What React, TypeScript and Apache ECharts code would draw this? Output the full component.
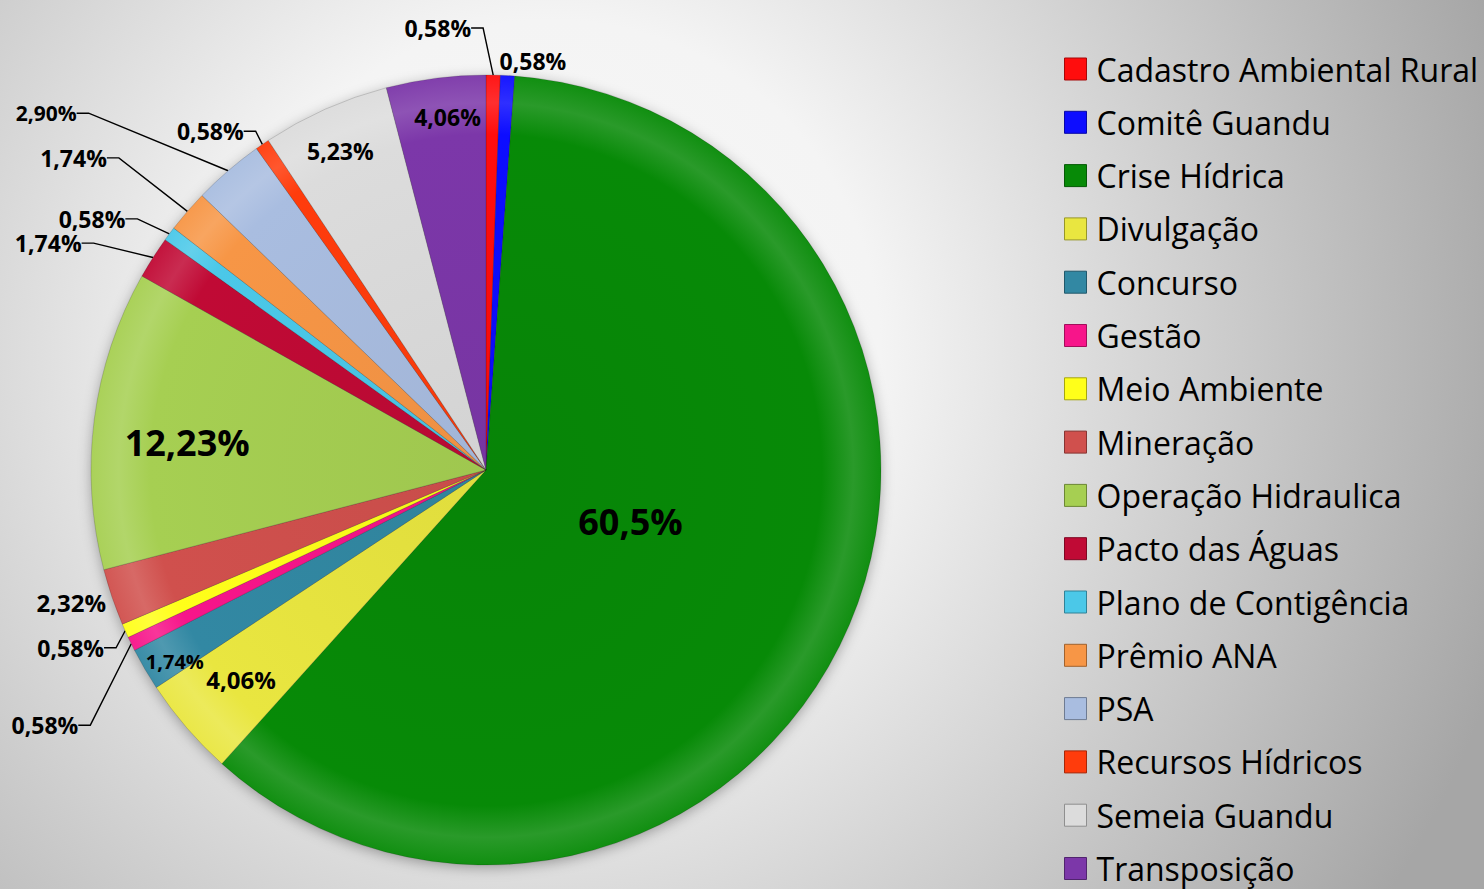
import React, { useEffect, useRef } from 'react';
import * as echarts from 'echarts';

const CATEGORIES = [
  'Cadastro Ambiental Rural', 'Comitê Guandu', 'Crise Hídrica', 'Divulgação', 'Concurso', 'Gestão',
  'Meio Ambiente', 'Mineração', 'Operação Hidraulica', 'Pacto das Águas', 'Plano de Contigência',
  'Prêmio ANA', 'PSA', 'Recursos Hídricos', 'Semeia Guandu', 'Transposição',
];
const VALUES = [0.58, 0.58, 60.5, 4.06, 1.74, 0.58, 0.58, 2.32, 12.23, 1.74, 0.58, 1.74, 2.9, 0.58, 5.23, 4.06];
const VALUE_LABELS = [
  '0,58%', '0,58%', '60,5%', '4,06%', '1,74%', '0,58%', '0,58%', '2,32%', '12,23%', '1,74%', '0,58%',
  '1,74%', '2,90%', '0,58%', '5,23%', '4,06%',
];
const COLORS = [
  '#ff0d0d', '#0d0dff', '#078a07', '#e9e640', '#3288a3', '#f7158a', '#ffff1a', '#d0504d',
  '#a6cf52', '#c00a35', '#4bc8e8', '#f79646', '#a9bde0', '#ff3c0c', '#dcdcdc', '#7c37a9',
];

// label styling (style only, not data)
const LABEL_MODE = ['line', 'free', 'in', 'in', 'in', 'line', 'line', 'free', 'in', 'line', 'line', 'line', 'line', 'line', 'in', 'in'];
const LABEL_SIZE = [23, 23, 36, 24, 20, 23, 23, 24, 36, 23, 23, 23, 21, 23, 23, 23];
const LABEL_SHIFT = [
  [-106, -37], [36, -209], [-40, -27], [-93, 79], [-138, 90], [-27, 77], [5, 13], [-225, 68],
  [-100, -2], [-46, -9], [-19, -9], [-56, -47], [-128, -50], [4, -5], [-64, -136], [-13, -154],
];

const CX = 486;
const CY = 470;
const R = 395;

function mix(hex: string, t: number, target = 255) {
  const n = parseInt(hex.slice(1), 16);
  const r = (n >> 16) & 255, g = (n >> 8) & 255, b = n & 255;
  const f = (c: number) => Math.round(c + (target - c) * t);
  return `rgb(${f(r)},${f(g)},${f(b)})`;
}

export default function App() {
  const ref = useRef<HTMLDivElement>(null);
  useEffect(() => {
    if (!ref.current) return;
    const chart = echarts.init(ref.current, null, { renderer: 'svg' });
    const data = CATEGORIES.map((name, i) => {
      const mode = LABEL_MODE[i];
      const base = COLORS[i];
      return {
        name,
        value: VALUES[i],
        itemStyle: {
          color: {
            type: 'radial', x: CX, y: CY, r: R, global: true,
            colorStops: [
              { offset: 0, color: mix(base, 0.04, 0) },
              { offset: 0.85, color: base },
              { offset: 0.93, color: mix(base, 0.14) },
              { offset: 1, color: mix(base, 0.04) },
            ],
          },
        },
        label: {
          position: mode === 'line' ? 'outside' : 'inside',
          fontSize: LABEL_SIZE[i],
          padding: mode === 'line' ? [0, 0, 8, 0] : 0,
        },
        labelLine: { show: mode === 'line' },
      };
    });
    chart.setOption({
      animation: false,
      graphic: [
        {
          type: 'circle', z: 0, silent: true,
          shape: { cx: CX, cy: CY, r: R - 1 },
          style: { fill: '#9a9a9a', shadowBlur: 14, shadowColor: 'rgba(0,0,0,0.35)', shadowOffsetY: 3 },
        },
      ],
      legend: {
        orient: 'vertical',
        left: 1064,
        top: 53,
        padding: 0,
        itemWidth: 22,
        itemHeight: 22,
        itemGap: 21.3,
        icon: 'rect',
        selectedMode: false,
        textStyle: { fontFamily: 'Open Sans', fontSize: 32, lineHeight: 32, color: '#000', padding: [0, 0, 0, 5] },
        data: CATEGORIES.map((name, i) => ({
          name,
          itemStyle: { color: COLORS[i], borderColor: mix(COLORS[i], 0.35, 0), borderWidth: 1 },
        })),
      },
      series: [
        {
          type: 'pie',
          center: [CX, CY],
          radius: R,
          startAngle: 90,
          clockwise: true,
          avoidLabelOverlap: false,
          itemStyle: { borderColor: 'rgba(0,0,0,0.15)', borderWidth: 1 },
          label: {
            show: true,
            color: '#000',
            fontFamily: 'Open Sans',
            fontWeight: 'bold',
            formatter: (p: any) => VALUE_LABELS[p.dataIndex],
          },
          labelLine: { length: 10, length2: 12, lineStyle: { color: '#000', width: 1.4 } },
          labelLayout: (params: any) => {
            const [ox, oy] = LABEL_SHIFT[params.dataIndex];
            const r = params.labelRect;
            return {
              x: r.x + r.width / 2 + ox,
              y: r.y + r.height / 2 + oy,
              align: 'center',
              verticalAlign: 'middle',
            };
          },
          emphasis: { disabled: true },
          data,
        },
      ],
    });
    return () => chart.dispose();
  }, []);
  return (
    <div
      style={{
        position: 'absolute', left: 0, top: 0, width: 1484, height: 889,
        background: 'radial-gradient(circle at 550px 350px, #f8f8f8 0px, #f4f4f4 330px, #a6a6a6 1000px)',
      }}
    >
      <div ref={ref} style={{ width: 1484, height: 889 }} />
    </div>
  );
}
